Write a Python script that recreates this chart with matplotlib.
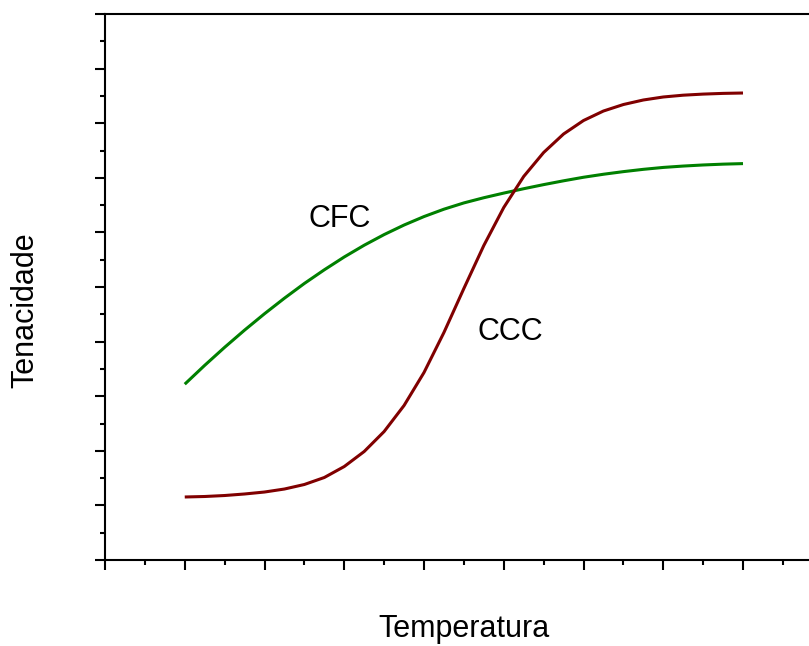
import numpy as np
import matplotlib
matplotlib.use("Agg")
import matplotlib.pyplot as plt
from matplotlib.ticker import MultipleLocator, NullFormatter

# Temperatura (unidades arbitrarias) e tenacidade
temperatura = [1.0, 1.25, 1.5, 1.75, 2.0, 2.25, 2.5, 2.75, 3.0, 3.25, 3.5, 3.75,
               4.0, 4.25, 4.5, 4.75, 5.0, 5.25, 5.5, 5.75, 6.0, 6.25, 6.5, 6.75,
               7.0, 7.25, 7.5, 7.75, 8.0]
tenacidade_cfc = [3.22, 3.565, 3.895, 4.21, 4.51, 4.795, 5.065, 5.315, 5.55, 5.765,
                  5.96, 6.135, 6.29, 6.425, 6.54, 6.635, 6.72, 6.80, 6.875, 6.945,
                  7.01, 7.065, 7.113, 7.155, 7.19, 7.215, 7.235, 7.25, 7.26]
tenacidade_ccc = [1.154, 1.163, 1.181, 1.209, 1.245, 1.300, 1.383, 1.511, 1.712, 1.987,
                  2.353, 2.830, 3.434, 4.167, 4.973, 5.760, 6.456, 7.024, 7.463, 7.802,
                  8.049, 8.223, 8.342, 8.425, 8.480, 8.513, 8.533, 8.546, 8.553]

plt.rcParams['font.family'] = ['Liberation Sans', 'DejaVu Sans']

fig = plt.figure(figsize=(8.09, 6.46), dpi=100)
ax = fig.add_axes([105 / 809, 86 / 646, 704 / 809, 546 / 646])

ax.plot(temperatura, tenacidade_cfc, color='#008000', lw=2.2,
        solid_capstyle='butt', solid_joinstyle='round')
ax.plot(temperatura, tenacidade_ccc, color='#800000', lw=2.2,
        solid_capstyle='butt', solid_joinstyle='round')

ax.set_xlim(0, 704 / 79.75)
ax.set_ylim(0, 10)

# ticks sem rotulos
ax.xaxis.set_major_locator(MultipleLocator(1))
ax.xaxis.set_minor_locator(MultipleLocator(0.5))
ax.yaxis.set_major_locator(MultipleLocator(1))
ax.yaxis.set_minor_locator(MultipleLocator(0.5))
ax.xaxis.set_major_formatter(NullFormatter())
ax.yaxis.set_major_formatter(NullFormatter())
ax.tick_params(which='major', direction='out', length=7.2, width=1.5, color='black')
ax.tick_params(which='minor', direction='out', length=3.6, width=1.5, color='black')
ax.tick_params(top=False, right=False)

ax.spines['right'].set_visible(False)
for s in ['left', 'top', 'bottom']:
    ax.spines[s].set_linewidth(1.5)

ax.text(2.94, 6.10, "CFC", fontsize=22, ha='center', va='baseline')
ax.text(5.08, 4.03, "CCC", fontsize=22, ha='center', va='baseline')

fig.text(464 / 809, 1 - 637 / 646, "Temperatura", fontsize=22, ha='center', va='baseline')
fig.text(25 / 809, 1 - 310 / 646, "Tenacidade", fontsize=22, rotation=90,
         ha='center', va='center')

fig.savefig("out.png", dpi=100)
